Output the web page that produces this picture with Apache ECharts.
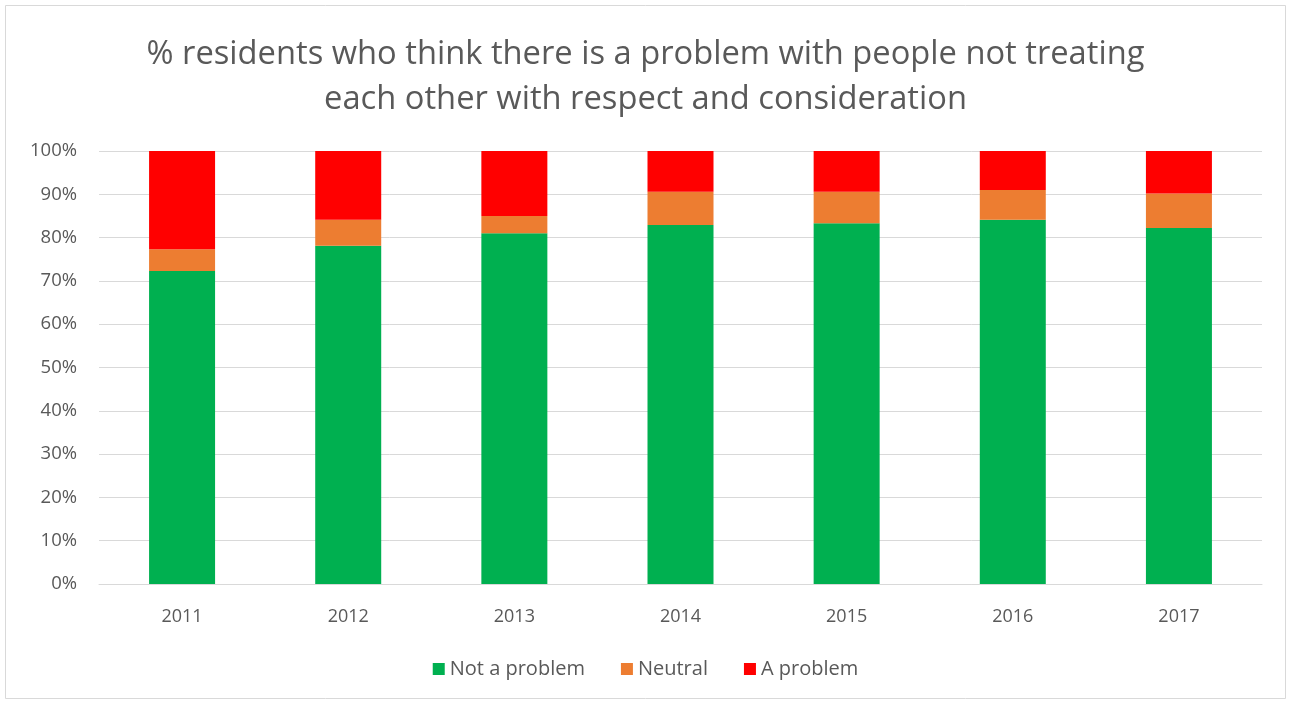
<!DOCTYPE html>
<html><head><meta charset="utf-8">
<script src="https://cdn.jsdelivr.net/npm/echarts@6/dist/echarts.min.js"></script>
<style>html,body{margin:0;padding:0;background:#fff}#c{width:1291px;height:704px}</style>
</head><body><div id="c"></div>
<script>
const categories = ['2011','2012','2013','2014','2015','2016','2017'];
const notProblem = [72.3, 78.1, 81.0, 82.9, 83.3, 84.1, 82.2];
const neutral    = [5.0, 6.0, 4.0, 7.7, 7.3, 6.9, 8.0];
const aProblem   = [22.7, 15.9, 15.0, 9.4, 9.4, 9.0, 9.8];
const yTicks = [0,10,20,30,40,50,60,70,80,90,100];

const font = 'Open Sans, Noto Sans, sans-serif';
const chart = echarts.init(document.getElementById('c'));
chart.setOption({
  animation: false,
  backgroundColor: '#fff',
  title: {
    text: '% residents who think there is a problem with people not treating\neach other with respect and consideration',
    left: 'center', top: 27,
    textStyle: { fontFamily: font, fontSize: 32.7, fontWeight: 'normal', color: '#595959', lineHeight: 45 }
  },
  graphic: [{ type: 'rect', shape: { x: 5.5, y: 5.5, width: 1280, height: 693 }, style: { fill: 'none', stroke: '#d9d9d9', lineWidth: 1 }, silent: true }],
  legend: {
    bottom: 20, left: 'center', itemWidth: 12, itemHeight: 12, itemGap: 36, icon: 'rect',
    textStyle: { fontFamily: font, fontSize: 20, color: '#595959' },
    data: ['Not a problem','Neutral','A problem']
  },
  grid: { left: 99, right: 29, top: 151, bottom: 120 },
  xAxis: {
    type: 'category', data: categories,
    axisLine: { lineStyle: { color: '#d9d9d9' } }, axisTick: { show: false },
    axisLabel: { fontFamily: font, fontSize: 18, color: '#595959', margin: 24 }
  },
  yAxis: {
    type: 'value', min: 0, max: 100, interval: 10,
    axisLabel: { fontFamily: font, fontSize: 18.5, color: '#595959', margin: 22, formatter: v => v + '%' },
    splitLine: { lineStyle: { color: '#d9d9d9', width: 1 } },
    axisLine: { show: false }, axisTick: { show: false }
  },
  series: [
    { name: 'Not a problem', type: 'bar', stack: 's', data: notProblem, barWidth: 66, itemStyle: { color: '#00b050' } },
    { name: 'Neutral', type: 'bar', stack: 's', data: neutral, barWidth: 66, itemStyle: { color: '#ed7d31' } },
    { name: 'A problem', type: 'bar', stack: 's', data: aProblem, barWidth: 66, itemStyle: { color: '#ff0000' } }
  ]
});
</script></body></html>
